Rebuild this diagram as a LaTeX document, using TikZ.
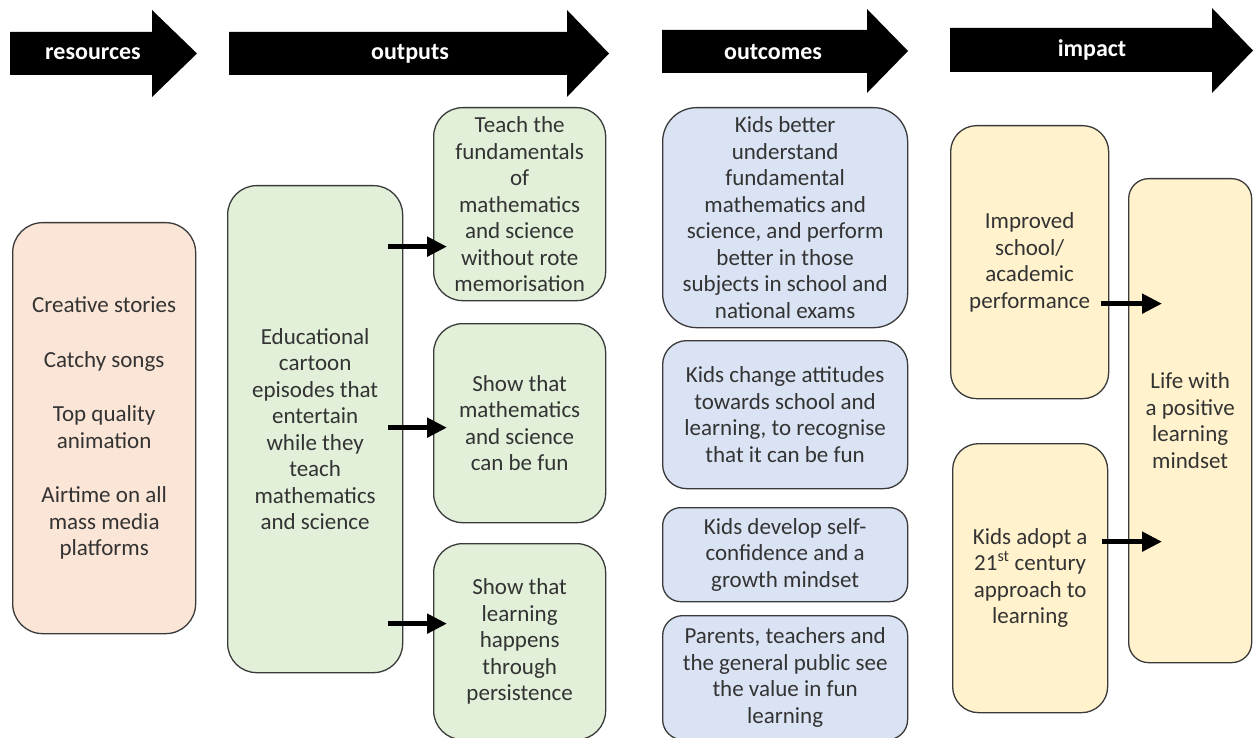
\documentclass[tikz,border=0pt]{standalone}
\usepackage{fontspec}
\setmainfont{Carlito}
\usetikzlibrary{arrows.meta}

\definecolor{peach}{HTML}{FBE5D6}
\definecolor{mint}{HTML}{E2F0D9}
\definecolor{skyblue}{HTML}{DAE3F3}
\definecolor{cream}{HTML}{FFF2CC}
\definecolor{edgegray}{HTML}{3A3A3A}
\definecolor{ink}{HTML}{333333}

\tikzset{
	box/.style={draw=edgegray, line width=1.3pt, rounded corners=#1, anchor=north west,
		align=center, inner sep=2pt, text=ink, font=\fontsize{23}{26.5}\selectfont},
	box/.default=28pt,
	hdr/.style={text=white, font=\bfseries\fontsize{24}{28}\selectfont},
	flow/.style={line width=5pt, -{Triangle[length=20pt,width=19pt]}},
}

\begin{document}
\begin{tikzpicture}[x=1pt,y=-1pt]
	\useasboundingbox (0,0) rectangle (1253,738);
	\fill[white] (0,0) rectangle (1253,738);

	% header arrows
	\fill (10,32) -- (152,32) -- (152,10) -- (197,53.5) -- (152,97) -- (152,75) -- (10,75) -- cycle;
	\fill (229,32) -- (567,32) -- (567,10) -- (609,53.5) -- (567,97) -- (567,75) -- (229,75) -- cycle;
	\fill (662,30) -- (867,30) -- (867,9) -- (908,51) -- (867,93) -- (867,73) -- (662,73) -- cycle;
	\fill (950,28) -- (1212,28) -- (1212,8) -- (1253,50.5) -- (1212,93) -- (1212,72) -- (950,72) -- cycle;
	\node[hdr] (hres) at (93,54) {resources};
	\node[hdr] (hout) at (410,54) {outputs};
	\node[hdr] (hocm) at (773,52) {outcomes};
	\node[hdr] (himp) at (1092,50) {impact};

	% resources
	\node[box=30pt, fill=peach, minimum width=183pt, minimum height=411pt] (res) at (12,222)
		{Creative stories\\[28pt] Catchy songs\\[28pt] Top quality\\animation\\[28pt] Airtime on all\\mass media\\platforms};

	% outputs
	\node[box=29pt, fill=mint, minimum width=175pt, minimum height=487pt] (edu) at (227,185)
		{Educational\\cartoon\\episodes that\\entertain\\while they\\teach\\mathematics\\and science};
	\node[box=29pt, fill=mint, minimum width=172pt, minimum height=193pt] (t1) at (433,107)
		{Teach the\\fundamentals\\of\\mathematics\\and science\\without rote\\memorisation};
	\node[box=29pt, fill=mint, minimum width=172pt, minimum height=199pt] (t2) at (433,323)
		{Show that\\mathematics\\and science\\can be fun};
	\node[box=29pt, fill=mint, minimum width=172pt, minimum height=196pt] (t3) at (433,543)
		{Show that\\learning\\happens\\through\\persistence};

	% outcomes
	\node[box=34pt, fill=skyblue, minimum width=245pt, minimum height=220pt] (o1) at (662,107)
		{Kids better\\understand\\fundamental\\mathematics and\\science, and perform\\better in those\\subjects in school and\\national exams};
	\node[box=24pt, fill=skyblue, minimum width=245pt, minimum height=148pt] (o2) at (662,340)
		{Kids change attitudes\\towards school and\\learning, to recognise\\that it can be fun};
	\node[box=18pt, fill=skyblue, minimum width=245pt, minimum height=94pt] (o3) at (662,507)
		{Kids develop self-\\confidence and a\\growth mindset};
	\node[box=20pt, fill=skyblue, minimum width=245pt, minimum height=124pt] (o4) at (662,615)
		{Parents, teachers and\\the general public see\\the value in fun\\learning};

	% impact
	\node[box=26pt, fill=cream, minimum width=158pt, minimum height=273pt] (i1) at (950,125)
		{Improved\\school/\\academic\\performance};
	\node[box=26pt, fill=cream, minimum width=155pt, minimum height=269pt] (i2) at (952,443)
		{Kids adopt a\\21\textsuperscript{st} century\\approach to\\learning};
	\node[box=20pt, fill=cream, minimum width=123pt, minimum height=484pt] (life) at (1128,178)
		{Life with\\a positive\\learning\\mindset};

	% links
	\draw[flow, shorten >=-14pt] ([xshift=-15pt,yshift=182.5pt]edu.east) coordinate (s1) -- (s1 -| t1.west);
	\draw[flow, shorten >=-14pt] ([xshift=-15pt,yshift=1.5pt]edu.east) coordinate (s2) -- (s2 -| t2.west);
	\draw[flow, shorten >=-14pt] ([xshift=-15pt,yshift=-194.5pt]edu.east) coordinate (s3) -- (s3 -| t3.west);
	\draw[flow, shorten >=-34pt] ([xshift=-8pt,yshift=-41.5pt]i1.east) coordinate (s4) -- (s4 -| life.west);
	\draw[flow, shorten >=-34pt] ([xshift=-6pt,yshift=36.5pt]i2.east) coordinate (s5) -- (s5 -| life.west);
\end{tikzpicture}
\end{document}
